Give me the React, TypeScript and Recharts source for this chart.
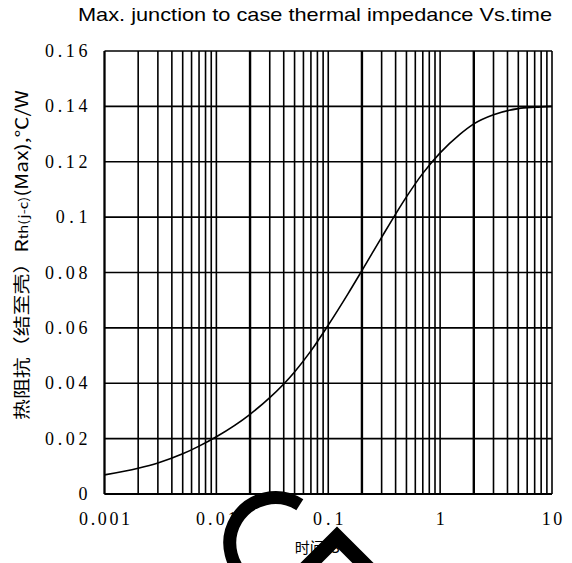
import React from 'react';
import { LineChart, Line, XAxis, YAxis, CartesianGrid, Label } from 'recharts';

// time (s) and max junction-to-case thermal impedance (°C/W)
const times = [0.001, 0.002, 0.003, 0.005, 0.007, 0.01, 0.02, 0.03, 0.05, 0.07, 0.1, 0.15, 0.2, 0.3, 0.4, 0.5, 0.7, 1, 1.5, 2, 3, 5, 7, 10];
const zth = [0.0069, 0.0093, 0.0112, 0.0145, 0.0173, 0.0207, 0.0288, 0.0348, 0.0441, 0.0517, 0.061, 0.0723, 0.0807, 0.0927, 0.1011, 0.1073, 0.1158, 0.1232, 0.1299, 0.1337, 0.137, 0.1392, 0.1397, 0.14];

// log grid lines (1..9 per decade)
const xGridTicks = [
  0.001, 0.002, 0.003, 0.004, 0.005, 0.006, 0.007, 0.008, 0.009,
  0.01, 0.02, 0.03, 0.04, 0.05, 0.06, 0.07, 0.08, 0.09,
  0.1, 0.2, 0.3, 0.4, 0.5, 0.6, 0.7, 0.8, 0.9,
  1, 2, 3, 4, 5, 6, 7, 8, 9,
  10,
];
const heavyGrid = [0.02, 0.2, 2];
const xLabels = [0.001, 0.01, 0.1, 1, 10];
const yTicks = [0, 0.02, 0.04, 0.06, 0.08, 0.1, 0.12, 0.14, 0.16];

const title = 'Max. junction to case thermal impedance Vs.time';
const xTitle = '时间/S';

const data = times.map((t, i) => ({ t, z: zth[i] }));

const serif = "'Liberation Serif', 'DejaVu Serif', serif";
const cjk = "'Noto Sans CJK SC', sans-serif";

const XTick = ({ x, y, payload }: any) => {
  if (!xLabels.includes(payload.value)) return null;
  const s = String(payload.value);
  return (
    <text
      x={x}
      y={y}
      dy={23}
      textAnchor="middle"
      fontFamily={serif}
      fontSize={18}
      fill="#000"
      {...(s.length > 1 ? { textLength: s.length * 10.2, lengthAdjust: 'spacing' } : {})}
    >
      {s}
    </text>
  );
};

const YTick = ({ x, y, payload }: any) => {
  const s = String(payload.value);
  return (
    <text
      x={x}
      y={y}
      dy={6}
      textAnchor="end"
      fontFamily={serif}
      fontSize={18}
      fill="#000"
      {...(s.length > 1 ? { textLength: s.length * 10.6, lengthAdjust: 'spacing' } : {})}
    >
      {s}
    </text>
  );
};

const YTitle = () => (
  <text
    transform="translate(28, 255) rotate(-90)"
    textAnchor="middle"
    fontFamily={cjk}
    fontSize={17}
    fill="#000"
    textLength={330}
    lengthAdjust="spacingAndGlyphs"
  >
    热阻抗（结至壳）R<tspan fontSize={12}>th(j-c)</tspan>(Max),℃/W
  </text>
);

const XTitle = ({ viewBox }: any) => (
  <text
    x={viewBox.x + viewBox.width / 2 - 11}
    y={553}
    textAnchor="middle"
    fontFamily={cjk}
    fontSize={15}
    fill="#000"
  >
    {xTitle}
  </text>
);

// vertical grid line; the 2x lines come out heavier in the picture
const VLine = (p: any) => {
  const v = xGridTicks[p.index];
  return (
    <line
      key={p.key}
      x1={p.x1}
      y1={p.y1}
      x2={p.x2}
      y2={p.y2}
      stroke="#000"
      strokeWidth={heavyGrid.includes(v) ? 2.4 : 1.6}
    />
  );
};

export default function App() {
  return (
    <div style={{ position: 'absolute', left: 0, top: 0, width: 572, height: 563, background: '#fff' }}>
      <LineChart width={572} height={563} data={data} margin={{ top: 51, right: 20, left: 0, bottom: 0 }}>
        <CartesianGrid stroke="#000" strokeWidth={1.6} vertical={VLine} />
        <XAxis
          dataKey="t"
          type="number"
          scale="log"
          domain={[0.001, 10]}
          ticks={xGridTicks}
          interval={0}
          allowDataOverflow
          height={69}
          tickSize={0}
          tickMargin={8}
          tickLine={false}
          axisLine={{ stroke: '#000', strokeWidth: 2 }}
          tick={<XTick />}
        >
          <Label content={<XTitle />} />
        </XAxis>
        <YAxis
          type="number"
          domain={[0, 0.16]}
          ticks={yTicks}
          interval={0}
          width={104.5}
          tickSize={0}
          tickMargin={17}
          tickLine={false}
          axisLine={{ stroke: '#000', strokeWidth: 2 }}
          tick={<YTick />}
        >
          <Label content={<YTitle />} />
        </YAxis>
        <Line
          type="monotone"
          dataKey="z"
          stroke="#000"
          strokeWidth={1.6}
          dot={false}
          isAnimationActive={false}
        />
      </LineChart>
      <svg width={572} height={563} style={{ position: 'absolute', left: 0, top: 0, pointerEvents: 'none' }}>
        <text
          x={78}
          y={21}
          fontFamily="'Liberation Sans', Arial, sans-serif"
          fontSize={19}
          fill="#000"
          textLength={474}
          lengthAdjust="spacingAndGlyphs"
        >
          {title}
        </text>
        {/* black overlay shapes seen over the axis title */}
        <path d="M 299.8 504.8 A 45.5 45.5 0 1 0 252.3 582.4" fill="none" stroke="#000" strokeWidth={13} />
        <polyline points="299,575 337,537 375,575" fill="none" stroke="#000" strokeWidth={15} strokeLinejoin="miter" />
      </svg>
    </div>
  );
}
